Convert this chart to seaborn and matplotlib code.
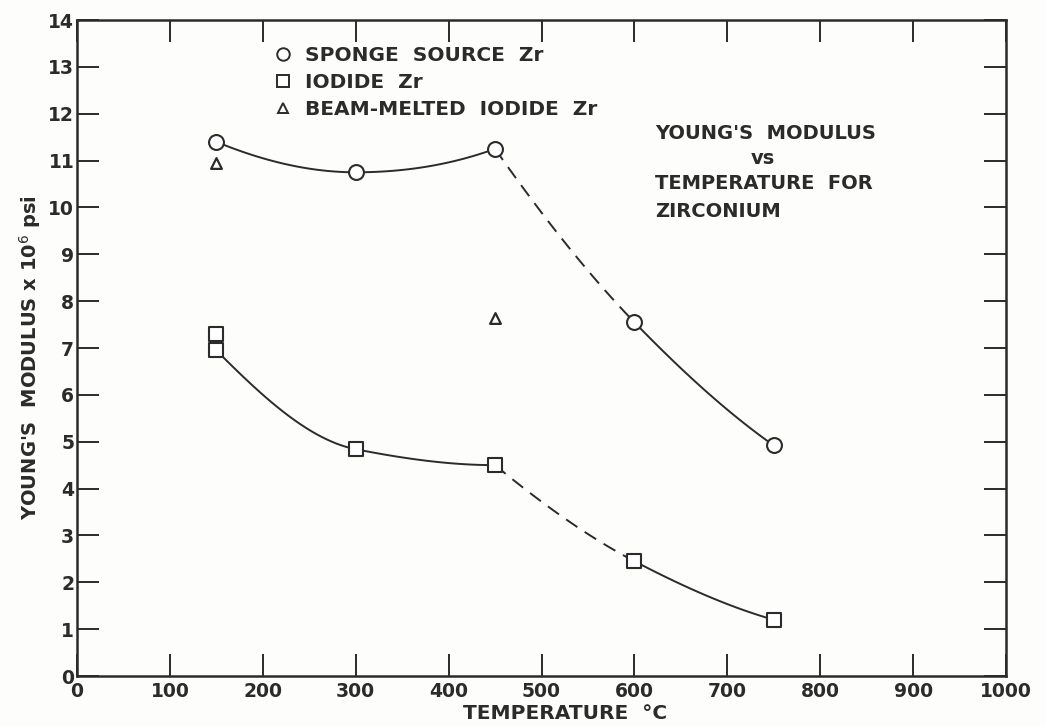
import numpy as np
import pandas as pd
import matplotlib
matplotlib.use("Agg")
import matplotlib.pyplot as plt
import seaborn as sns
from matplotlib.lines import Line2D

# ---- data ----
sponge_temp = [150, 300, 450, 600, 750]
sponge_mod = [11.4, 10.75, 11.25, 7.55, 4.92]

iodide_temp = [150, 150, 300, 450, 600, 750]
iodide_mod = [7.3, 6.95, 4.84, 4.5, 2.45, 1.2]

beam_temp = [150, 450]
beam_mod = [10.95, 7.65]

x_ticks = list(range(0, 1001, 100))
y_ticks = list(range(0, 15))

INK = "#2b2b2b"

sns.set_theme(style="white")
plt.rcParams["font.family"] = ["DejaVu Sans"]

fig = plt.figure(figsize=(10.46, 7.26), dpi=100)
ax = fig.add_axes([77 / 1046, 50 / 726, 929 / 1046, 656 / 726])
fig.patch.set_facecolor("#fdfdfc")
ax.set_facecolor("#fdfdfc")


def pchip(xs, ys, n=80):
    """monotone cubic curve through the given points (hand-drawn french curve look)"""
    xs = np.asarray(xs, float)
    ys = np.asarray(ys, float)
    h = np.diff(xs)
    d = np.diff(ys) / h
    m = np.zeros_like(ys)
    for k in range(1, len(xs) - 1):
        if d[k - 1] * d[k] > 0:
            w1 = 2 * h[k] + h[k - 1]
            w2 = h[k] + 2 * h[k - 1]
            m[k] = (w1 + w2) / (w1 / d[k - 1] + w2 / d[k])

    def end(h0, h1, d0, d1):
        v = ((2 * h0 + h1) * d0 - h0 * d1) / (h0 + h1)
        if np.sign(v) != np.sign(d0):
            v = 0.0
        elif np.sign(d0) != np.sign(d1) and abs(v) > abs(3 * d0):
            v = 3 * d0
        return v

    m[0] = end(h[0], h[1], d[0], d[1])
    m[-1] = end(h[-1], h[-2], d[-1], d[-2])
    xx = np.linspace(xs[0], xs[-1], n)
    idx = np.clip(np.searchsorted(xs, xx) - 1, 0, len(xs) - 2)
    t = (xx - xs[idx]) / h[idx]
    h00 = 2 * t**3 - 3 * t**2 + 1
    h10 = t**3 - 2 * t**2 + t
    h01 = -2 * t**3 + 3 * t**2
    h11 = t**3 - t**2
    yy = (h00 * ys[idx] + h10 * h[idx] * m[idx] + h01 * ys[idx + 1]
          + h11 * h[idx] * m[idx + 1])
    return xx, yy


def draw_series(t, m):
    # solid part through the first three points (low temperature)
    x1, y1 = pchip(t[0:3], m[0:3])
    sns.lineplot(x=x1, y=y1, ax=ax, color=INK, lw=1.4, sort=False)
    # curve through the last three points: dashed then solid
    x2, y2 = pchip(t[2:5], m[2:5], n=161)
    half = len(x2) // 2 + 1
    sns.lineplot(x=x2[:half], y=y2[:half], ax=ax, color=INK, lw=1.4,
                 sort=False, linestyle=(0, (7, 4.5)))
    sns.lineplot(x=x2[half - 1:], y=y2[half - 1:], ax=ax, color=INK,
                 lw=1.4, sort=False)


draw_series(sponge_temp, sponge_mod)
draw_series(iodide_temp[1:], iodide_mod[1:])

sns.scatterplot(x=sponge_temp, y=sponge_mod, ax=ax, marker="o", s=115,
                facecolor="white", edgecolor=INK, linewidth=1.5, zorder=5)
sns.scatterplot(x=iodide_temp, y=iodide_mod, ax=ax, marker="s", s=90,
                facecolor="white", edgecolor=INK, linewidth=1.5, zorder=5)
sns.scatterplot(x=beam_temp, y=beam_mod, ax=ax, marker="^", s=60,
                facecolor="white", edgecolor=INK, linewidth=1.6, zorder=5)

ax.set_xlim(0, 1000)
ax.set_ylim(0, 14)
ax.set_xticks(x_ticks)
ax.set_yticks(y_ticks)
ax.set_xticklabels([str(v) for v in x_ticks], fontweight="bold")
ax.set_yticklabels([str(v) for v in y_ticks], fontweight="bold")

for s in ax.spines.values():
    s.set_visible(True)
    s.set_color(INK)
    s.set_linewidth(1.8)

ax.tick_params(axis="both", direction="in", length=16, width=1.4,
               color=INK, labelcolor=INK, labelsize=13.5,
               top=True, right=True, bottom=True, left=True)
ax.tick_params(axis="x", pad=4)
ax.tick_params(axis="y", pad=2)

ax.set_xlabel("TEMPERATURE  °C", fontsize=14.5, color=INK, fontweight="bold")
ax.set_ylabel("YOUNG'S  MODULUS x 10$^6$ psi", fontsize=14, color=INK,
              fontweight="bold")
ax.xaxis.set_label_coords(0.525, -0.043)
ax.yaxis.set_label_coords(-0.037, 0.485)

handles = [
    Line2D([], [], marker="o", ls="none", mfc="white", mec=INK, mew=1.4, ms=9),
    Line2D([], [], marker="s", ls="none", mfc="white", mec=INK, mew=1.4, ms=8),
    Line2D([], [], marker="^", ls="none", mfc="white", mec=INK, mew=1.4, ms=7),
]
labels = ["SPONGE  SOURCE  Zr", "IODIDE  Zr", "BEAM-MELTED  IODIDE  Zr"]
leg = ax.legend(handles, labels, loc="upper left",
                bbox_to_anchor=(0.213, 0.961), frameon=False,
                handlelength=0.8, handletextpad=0.7, labelspacing=0.4,
                prop={"size": 14.5, "weight": "bold"}, labelcolor=INK,
                borderaxespad=0, borderpad=0)

txt_kw = dict(fontsize=14, fontweight="bold", color=INK, va="center")
ax.text(622, 11.57, "YOUNG'S  MODULUS", ha="left", **txt_kw)
ax.text(738, 11.05, "vs", ha="center", **txt_kw)
ax.text(622, 10.52, "TEMPERATURE  FOR", ha="left", **txt_kw)
ax.text(622, 9.92, "ZIRCONIUM", ha="left", **txt_kw)

fig.savefig("out.png", dpi=100, facecolor=fig.get_facecolor())
